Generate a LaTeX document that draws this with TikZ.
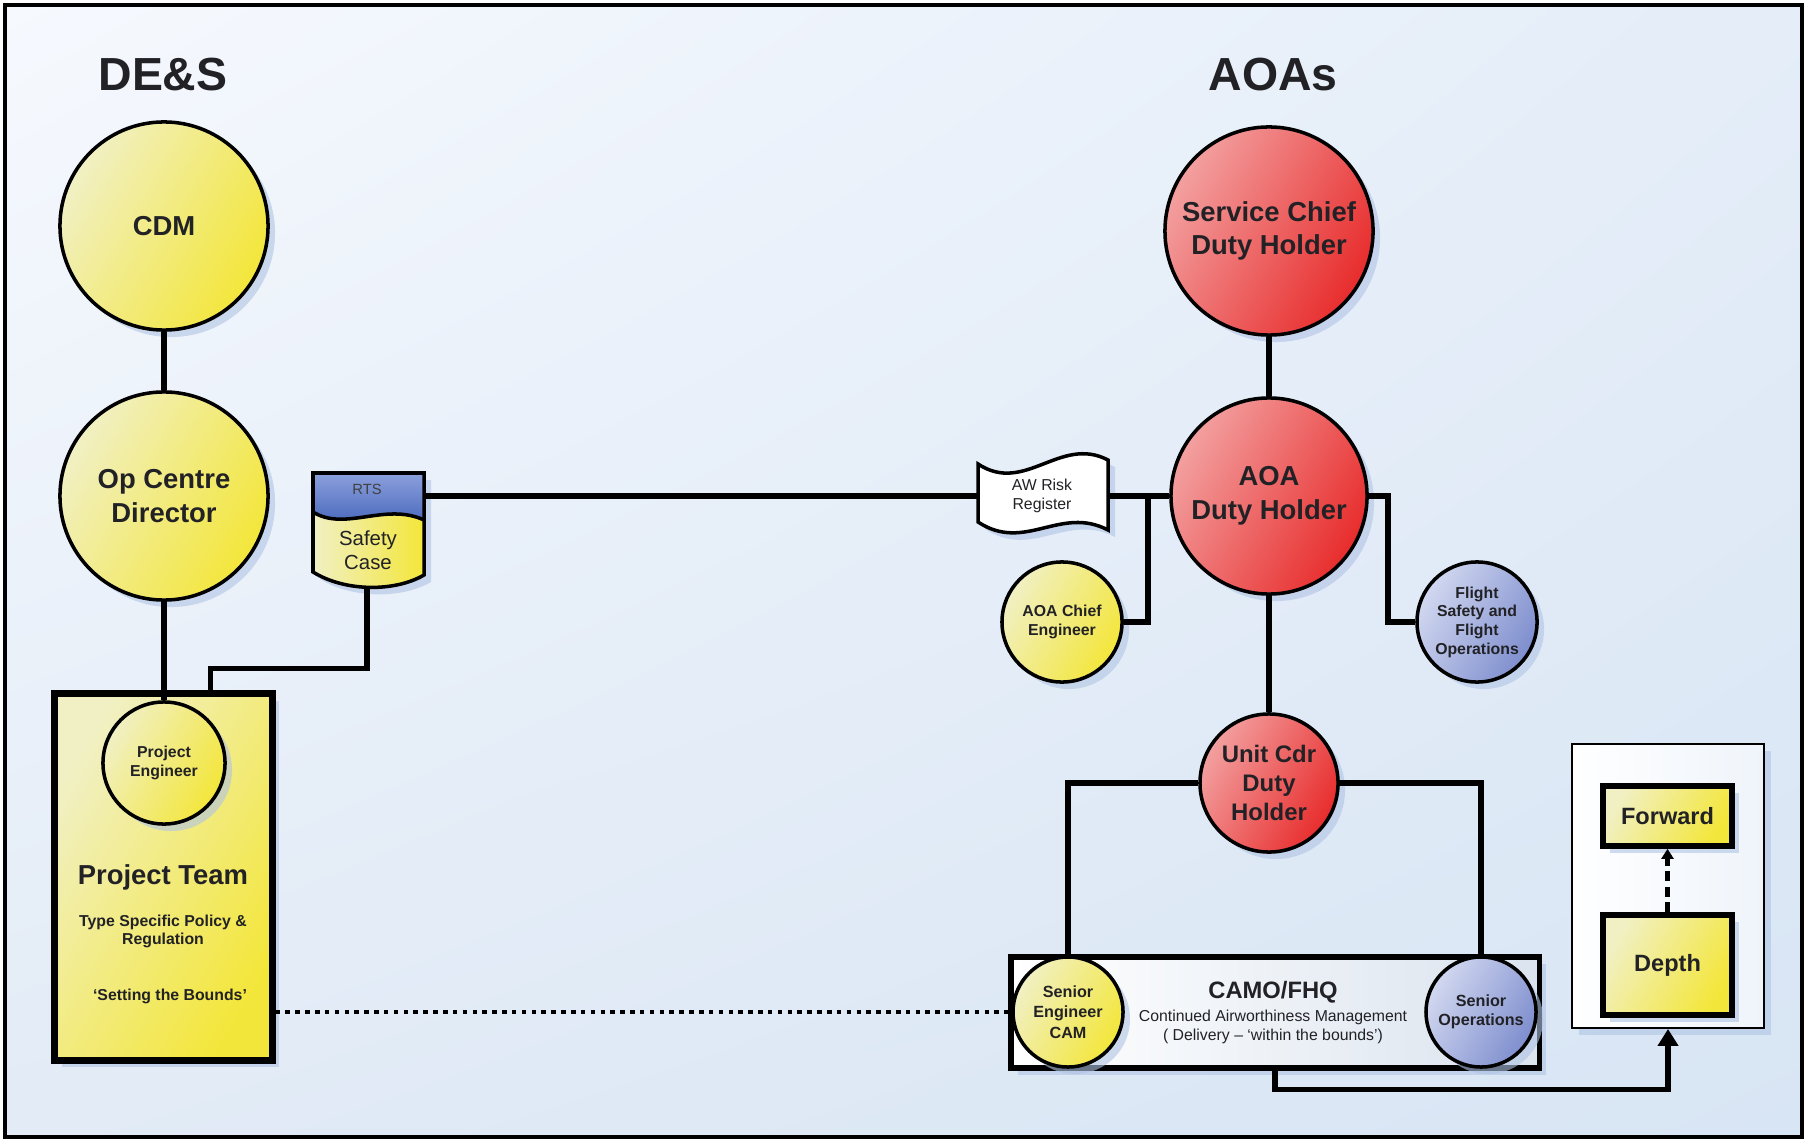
\documentclass[tikz,border=0pt]{standalone}
\usepackage{fontspec}
\setmainfont{Liberation Sans}
\usetikzlibrary{shadows,shadings,arrows.meta,calc}
\definecolor{yelL}{RGB}{241,240,196}
\definecolor{yelR}{RGB}{243,230,58}
\definecolor{redL}{RGB}{243,160,160}
\definecolor{redR}{RGB}{232,44,44}
\definecolor{bluL}{RGB}{210,216,240}
\definecolor{bluR}{RGB}{126,142,206}
\definecolor{rtsT}{RGB}{140,160,220}
\definecolor{rtsB}{RGB}{62,96,184}
\definecolor{shad}{RGB}{176,196,228}
\definecolor{txt}{RGB}{34,34,38}
\definecolor{bgUL}{RGB}{246,249,254}
\definecolor{bgUR}{RGB}{228,237,248}
\definecolor{bgLL}{RGB}{226,235,246}
\definecolor{bgLR}{RGB}{216,229,244}
\begin{document}
\begin{tikzpicture}[x=0.01cm,y=-0.01cm,
 conn/.style={line width=1.6pt},
 circ/.style={circle, draw=black, line width=1pt, inner sep=0pt, align=center, text=txt},
 yelf/.style={left color=yelL, right color=yelR, shading angle=60},
 redf/.style={left color=redL, right color=redR, shading angle=60},
 bluf/.style={left color=bluL, right color=bluR, shading angle=60},
 shd/.style={drop shadow={shadow xshift=0.07cm, shadow yshift=-0.07cm, fill=shad, opacity=0.6}},
 bigt/.style={font=\fontsize{7.8}{9.6}\selectfont\bfseries},
 smt/.style={font=\fontsize{4.5}{5.3}\selectfont\bfseries},
 lbl/.style={align=center, text=txt, inner sep=0pt},
 ttl/.style={lbl, font=\fontsize{13.2}{15}\selectfont\bfseries},
]
\useasboundingbox (0,0) rectangle (1810,1146);
% background and frame
\shade[upper left=bgUL, upper right=bgUR, lower left=bgLL, lower right=bgLR] (5,5) rectangle (1802,1137);
\draw[line width=1.4pt] (5,5) rectangle (1802,1137);

% titles
\node[ttl] (des) at (163,75) {DE\&S};
\node[ttl] (aoas) at (1273,75) {AOAs};

% DE&S side
\node[circ, yelf, shd, bigt, minimum size=2.08cm] (cdm) at (164,226) {CDM};
\node[circ, yelf, shd, bigt, minimum size=2.08cm] (opc) at (164,496) {Op Centre\\Director};
\node[draw=black, line width=2pt, yelf, shd, minimum width=2.17cm, minimum height=3.66cm, inner sep=0pt] (pt) at (163.5,877) {};
\node[circ, yelf, shd, smt, minimum size=1.22cm] (pe) at (164,763) {Project\\Engineer};
\node[lbl, bigt] (ptt) at (163,877) {Project Team};
\node[lbl, font=\fontsize{4.5}{5.1}\selectfont\bfseries] (pts) at (163,931) {Type Specific Policy \&\\Regulation};
\node[lbl, smt] (ptb) at (170,996) {‘Setting the Bounds’};

% RTS / Safety Case document
\fill[shad, opacity=0.6, shift={(7,7)}] (313,473) -- (424,473) -- (424,575) .. controls (395,592) and (345,592) .. (313,572) -- cycle;
\shade[top color=rtsT, bottom color=rtsB] (313,473) -- (424,473) -- (424,520) .. controls (385,502) and (345,532) .. (313,512) -- cycle;
\shade[left color=yelL, right color=yelR] (313,512) .. controls (345,532) and (385,502) .. (424,520) -- (424,575) .. controls (395,592) and (345,592) .. (313,572) -- cycle;
\draw[line width=1pt] (313,512) .. controls (345,532) and (385,502) .. (424,520);
\draw[line width=1pt] (313,473) -- (424,473) -- (424,575) .. controls (395,592) and (345,592) .. (313,572) -- cycle;
\node[inner sep=0pt, minimum width=1.11cm, minimum height=1.15cm] (rts) at (368.5,530) {};
\node[lbl, text=black!75, font=\fontsize{4.2}{5}\selectfont] (rtst) at (367,489) {RTS};
\node[lbl, font=\fontsize{5.8}{6.9}\selectfont] (sct) at (368,550) {Safety\\Case};
\coordinate (rtsR) at (424,496);
\coordinate (rtsBot) at (367,586);

% AW Risk Register tape
\fill[shad, opacity=0.6, shift={(7,7)}] (978,464) .. controls (1025,495) and (1060,435) .. (1108,460) -- (1108,530) .. controls (1060,505) and (1025,553) .. (978,522) -- cycle;
\draw[line width=1pt, fill=white] (978,464) .. controls (1025,495) and (1060,435) .. (1108,460) -- (1108,530) .. controls (1060,505) and (1025,553) .. (978,522) -- cycle;
\node[lbl, font=\fontsize{4.5}{5.6}\selectfont] (aw) at (1042,496) {AW Risk\\Register};
\coordinate (awL) at (978,496);
\coordinate (awR) at (1108,496);
\coordinate (br) at (1148,496);

% AOA side
\node[circ, redf, shd, bigt, minimum size=2.08cm] (sc) at (1269,231) {Service Chief\\Duty Holder};
\node[circ, redf, shd, bigt, minimum size=1.96cm] (aoa) at (1269,496) {AOA\\Duty Holder};
\node[circ, yelf, shd, smt, minimum size=1.2cm] (ace) at (1062,622) {AOA Chief\\Engineer};
\node[circ, bluf, shd, smt, minimum size=1.2cm] (fs) at (1477,622) {Flight\\Safety and\\Flight\\Operations};
\node[circ, redf, shd, font=\fontsize{6.8}{8.2}\selectfont\bfseries, minimum size=1.38cm] (ucd) at (1269,783) {Unit Cdr\\Duty\\Holder};

% CAMO
\node[draw=black, line width=1.5pt, left color=white, right color=black!4!bgUR, shd, minimum width=5.28cm, minimum height=1.11cm, inner sep=0pt] (camo) at (1275,1012.5) {};
\node[lbl, font=\fontsize{6.75}{8}\selectfont\bfseries] (camot) at (1273,992) {CAMO/FHQ};
\node[lbl, font=\fontsize{4.5}{5.4}\selectfont] (camod) at (1273,1027) {Continued Airworthiness Management\\( Delivery – ‘within the bounds’)};
\node[circ, yelf, shd, font=\fontsize{4.6}{5.8}\selectfont\bfseries, minimum size=1.1cm] (seng) at (1068,1012) {Senior\\Engineer\\CAM};
\node[circ, bluf, shd, font=\fontsize{4.6}{5.5}\selectfont\bfseries, minimum size=1.1cm] (sops) at (1481,1012) {Senior\\Operations};

% legend
\node[draw=black, line width=0.5pt, left color=white, right color=bgUR!60!white, shd, minimum width=1.92cm, minimum height=2.84cm, inner sep=0pt] (leg) at (1668,886) {};
\node[draw=black, line width=1.6pt, yelf, shd, minimum width=1.29cm, minimum height=0.6cm, inner sep=0pt, text=txt, font=\fontsize{6.7}{8}\selectfont\bfseries] (fwd) at (1667.5,816) {Forward};
\node[draw=black, line width=1.6pt, yelf, shd, minimum width=1.29cm, minimum height=1.0cm, inner sep=0pt, text=txt, font=\fontsize{6.7}{8}\selectfont\bfseries] (dep) at (1667.5,965) {Depth};

% connectors
\draw[conn] (cdm.south) -- (opc.north);
\draw[conn] (opc.south) -- (pe.north);
\draw[conn] ([xshift=1.59cm]pt.north west) -- ++(0,-22) -| (rtsBot);
\draw[conn] (rtsR) -- (awL);
\draw[conn] (awR) -- (aoa.west);
\draw[conn] (br) |- (ace.east);
\draw[conn] (sc.south) -- (aoa.north);
\draw[conn] (aoa.east) -- ++(19,0) |- (fs.west);
\draw[conn] (aoa.south) -- (ucd.north);
\draw[conn] (ucd.west) -| (seng.north);
\draw[conn] (ucd.east) -| (sops.north);
\draw[line width=1.1pt, dash pattern=on 1.3pt off 1.5pt] (seng.west -| pt.east) -- (seng.west);
\draw[conn, -{Triangle[length=0.17cm,width=0.2cm]}] (camo.south) -- ++(0,19) -| (leg.south);
\draw[line width=1.2pt, dash pattern=on 2.8pt off 1.6pt, -{Triangle[length=0.1cm,width=0.12cm]}] (dep.north) -- (fwd.south);
\end{tikzpicture}
\end{document}
